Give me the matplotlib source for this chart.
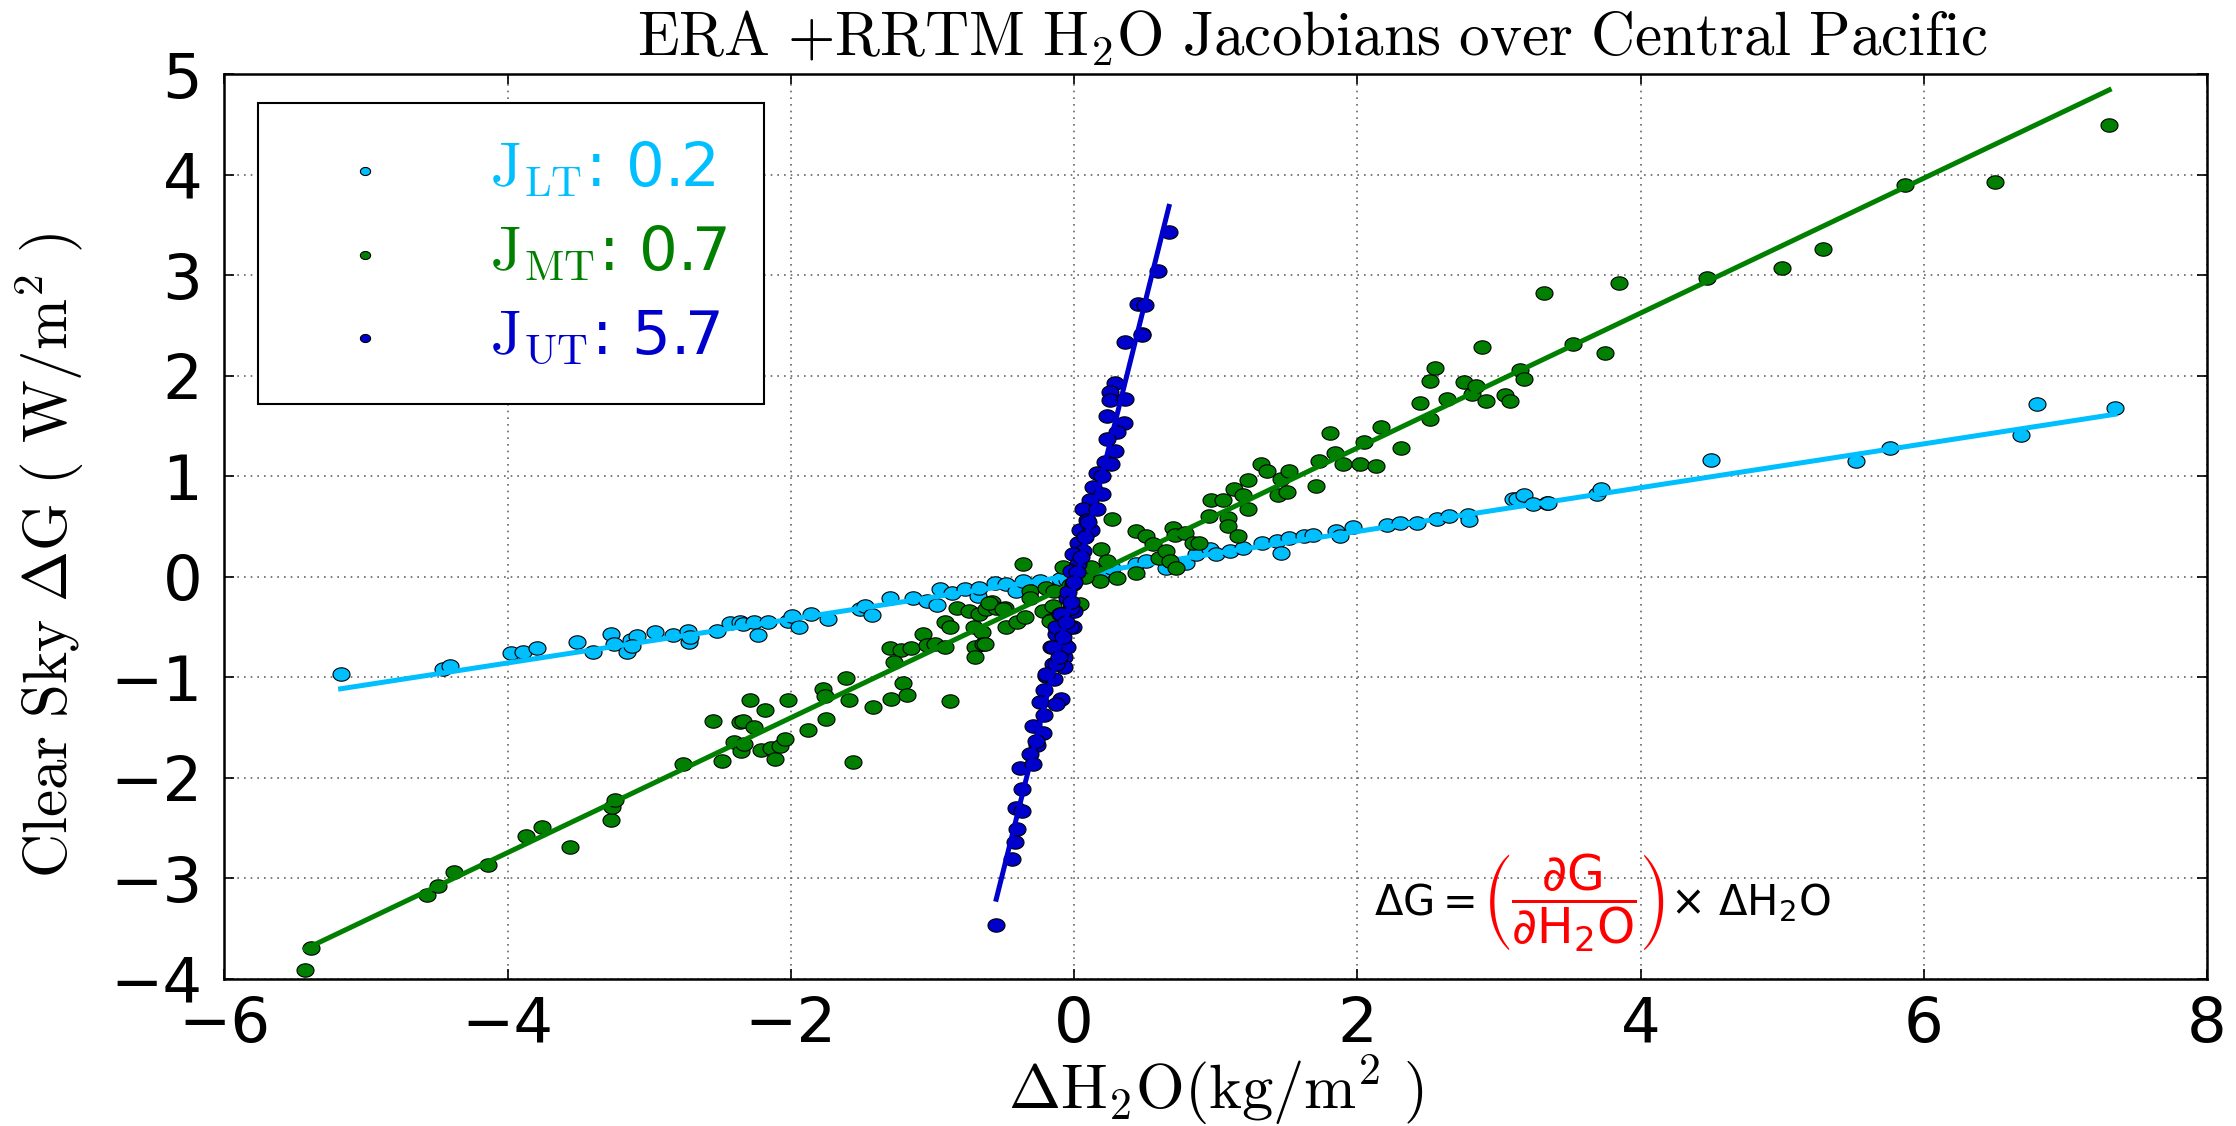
import numpy as np
import matplotlib
matplotlib.use("Agg")
import matplotlib.pyplot as plt
from matplotlib.path import Path

plt.rcParams['mathtext.fontset'] = 'cm'

# ---- data ----
lt_x = [-5.18, -4.46, -4.41, -3.98, -3.89, -3.79, -3.51, -3.40, -3.27, -3.25, -3.16, -3.13, -3.09, -3.12,
        -2.96, -2.83, -2.73, -2.72, -2.71, -2.52, -2.43, -2.36, -2.34, -2.26, -2.23, -2.16, -2.02, -1.99,
        -1.94, -1.86, -1.74, -1.51, -1.48, -1.43, -1.30, -1.14, -1.04, -0.97, -0.95, -0.86, -0.77, -0.68,
        -0.67, -0.56, -0.48, -0.41, -0.36, -0.24, -0.10, -0.05, 0.03, 0.11, 0.20, 0.27, 0.44, 0.51, 0.65,
        0.68, 0.79, 0.86, 0.96, 1.00, 1.10, 1.19, 1.33, 1.43, 1.46, 1.52, 1.62, 1.69, 1.85, 1.88, 1.97,
        2.21, 2.30, 2.42, 2.56, 2.65, 2.78, 2.79, 3.10, 3.13, 3.18, 3.24, 3.34, 3.35, 3.69, 3.72, 4.50,
        5.52, 5.76, 6.69, 6.80, 7.35]
lt_y = [-0.97, -0.92, -0.885, -0.76, -0.75, -0.71, -0.65, -0.75, -0.57, -0.67, -0.75, -0.63, -0.59, -0.69,
        -0.55, -0.58, -0.54, -0.65, -0.60, -0.54, -0.46, -0.45, -0.47, -0.45, -0.58, -0.45, -0.44, -0.39,
        -0.50, -0.37, -0.42, -0.32, -0.29, -0.38, -0.21, -0.21, -0.24, -0.28, -0.12, -0.16, -0.12, -0.19,
        -0.11, -0.06, -0.07, -0.14, -0.04, -0.04, -0.02, -0.03, 0.02, 0.08, 0.05, 0.09, 0.13, 0.16, 0.09,
        0.16, 0.14, 0.23, 0.28, 0.23, 0.26, 0.29, 0.34, 0.36, 0.24, 0.39, 0.41, 0.42, 0.46, 0.41, 0.50,
        0.52, 0.54, 0.54, 0.58, 0.61, 0.62, 0.57, 0.77, 0.77, 0.81, 0.72, 0.73, 0.73, 0.82, 0.87, 1.16,
        1.15, 1.28, 1.41, 1.72, 1.68]

mt_x = [-5.43, -5.39, -4.57, -4.49, -4.38, -4.14, -3.87, -3.76, -3.56, -3.27, -3.26, -3.24, -2.76, -2.55,
        -2.49, -2.40, -2.36, -2.35, -2.29, -2.34, -2.26, -2.33, -2.18, -2.21, -2.14, -2.11, -2.08, -2.04,
        -2.02, -1.88, -1.77, -1.75, -1.76, -1.61, -1.59, -1.56, -1.42, -1.29, -1.21, -1.18, -1.30, -1.22,
        -1.15, -1.27, -1.07, -1.04, -0.98, -0.91, -0.88, -0.91, -0.88, -0.83, -0.74, -0.71, -0.70, -0.70,
        -0.65, -0.64, -0.67, -0.62, -0.58, -0.55, -0.49, -0.48, -0.40, -0.35, -0.36, -0.31, -0.31, -0.22,
        -0.20, -0.15, -0.14, -0.08, -0.16, -0.60, -0.50, -0.63, -0.17, 0.04, 0.18, 0.30, 0.19, 0.23, 0.27,
        0.44, 0.51, 0.44, 0.56, 0.60, 0.65, 0.68, 0.70, 0.72, 0.71, 0.78, 0.84, 0.88, 0.95, 0.97, 1.05,
        1.09, 1.09, 1.16, 1.13, 1.19, 1.23, 1.23, 1.32, 1.36, 1.44, 1.46, 1.50, 1.52, 1.71, 1.73, 1.81,
        1.84, 1.90, 2.02, 2.05, 2.13, 2.17, 2.31, 2.44, 2.51, 2.51, 2.55, 2.63, 2.75, 2.81, 2.84, 2.91,
        2.88, 3.04, 3.08, 3.15, 3.18, 3.32, 3.52, 3.75, 3.85, 4.47, 5.00, 5.29, 5.87, 6.50, 7.31,
        0.08, -0.03, 0.12]
mt_y = [-3.91, -3.69, -3.17, -3.08, -2.94, -2.87, -2.58, -2.49, -2.69, -2.42, -2.29, -2.22, -1.86, -1.43,
        -1.83, -1.64, -1.44, -1.73, -1.23, -1.43, -1.49, -1.66, -1.33, -1.72, -1.70, -1.81, -1.68, -1.61,
        -1.23, -1.52, -1.12, -1.41, -1.19, -1.01, -1.23, -1.84, -1.30, -1.22, -1.06, -1.18, -0.71, -0.73,
        -0.71, -0.85, -0.57, -0.68, -0.67, -0.70, -1.24, -0.45, -0.50, -0.31, -0.34, -0.50, -0.70, -0.80,
        -0.55, -0.67, -0.37, -0.32, -0.25, -0.31, -0.31, -0.50, -0.45, -0.40, 0.13, -0.14, -0.21, -0.34,
        -0.11, -0.29, -0.14, 0.10, -0.43, -0.26, -0.32, -0.67, -0.44, -0.27, -0.04, -0.01, 0.28, 0.16, 0.58,
        0.46, 0.41, 0.04, 0.33, 0.19, 0.26, 0.16, 0.49, 0.09, 0.42, 0.44, 0.34, 0.34, 0.61, 0.76, 0.76,
        0.59, 0.51, 0.41, 0.87, 0.81, 0.67, 0.96, 1.12, 1.05, 0.81, 0.97, 0.84, 1.05, 0.90, 1.15, 1.43,
        1.23, 1.12, 1.12, 1.34, 1.10, 1.49, 1.28, 1.73, 1.57, 1.95, 2.08, 1.77, 1.94, 1.82, 1.90, 1.75,
        2.29, 1.81, 1.75, 2.06, 1.97, 2.82, 2.32, 2.23, 2.92, 2.97, 3.07, 3.26, 3.90, 3.93, 4.50,
        0.00, -0.08, 0.10]

ut_x = [0.67, 0.59, 0.45, 0.50, 0.48, 0.36, 0.29, 0.25, 0.25, 0.36, 0.23, 0.35, 0.30, 0.23, 0.29, 0.22,
        0.26, 0.16, 0.20, 0.13, 0.20, 0.11, 0.06, 0.16, 0.09, 0.04, 0.12, 0.03, 0.06, -0.01, 0.03, -0.02,
        -0.01, -0.05, 0.00, -0.10, -0.01, -0.13, -0.07, -0.16, -0.07, -0.15, -0.07, -0.20, -0.14, -0.21,
        -0.09, -0.24, -0.13, -0.21, -0.29, -0.22, -0.26, -0.31, -0.38, -0.29, -0.37, -0.41, -0.37, -0.40,
        -0.42, -0.44, -0.55, -0.27, -0.20, -0.13, -0.05, -0.15, -0.03, -0.13, -0.02, -0.09, -0.04, 0.02,
        0.00, -0.06, -0.08, -0.11, 0.08, 0.10, 0.05, -0.02, 0.48]
ut_y = [3.43, 3.04, 2.71, 2.70, 2.42, 2.34, 1.93, 1.84, 1.76, 1.77, 1.60, 1.53, 1.44, 1.37, 1.25, 1.14,
        1.12, 1.03, 1.00, 0.89, 0.82, 0.76, 0.67, 0.67, 0.57, 0.47, 0.47, 0.34, 0.26, 0.23, 0.13, 0.06,
        -0.07, -0.21, -0.34, -0.37, -0.50, -0.57, -0.67, -0.70, -0.80, -0.87, -0.90, -0.99, -1.02, -1.13,
        -1.22, -1.25, -1.27, -1.37, -1.48, -1.55, -1.67, -1.76, -1.90, -1.86, -2.11, -2.30, -2.33, -2.51,
        -2.64, -2.81, -3.46, -1.63, -0.97, -0.87, -0.70, -0.70, -0.50, -0.50, -0.31, -0.37, -0.15, 0.05,
        -0.05, -0.45, -0.60, -0.80, 0.40, 0.55, 0.20, -0.25, 2.41]

# linear fits as drawn in the reference (slope, intercept)
fit_slope = [0.218, 0.671, 5.65]
fit_intercept = [0.015, -0.06, -0.10]
labels = [r'$\mathrm{J_{LT}}$: 0.2', r'$\mathrm{J_{MT}}$: 0.7', r'$\mathrm{J_{UT}}$: 5.7']
colors = ['#00bfff', '#007f00', '#0000cd']
x_ticks = [-6, -4, -2, 0, 2, 4, 6, 8]
y_ticks = [-4, -3, -2, -1, 0, 1, 2, 3, 4, 5]

# horizontally stretched circle, like the reference markers
theta = np.linspace(0, 2 * np.pi, 60)
oval = Path(np.column_stack([1.27 * np.cos(theta), np.sin(theta)]), closed=True)

fig = plt.figure(figsize=(22.36, 11.26), dpi=100)
ax = fig.add_axes([0.1004, 0.1307, 0.8866, 0.8033])

series = [(lt_x, lt_y), (mt_x, mt_y), (ut_x, ut_y)]
for (xs, ys), m, b, lab, c in zip(series, fit_slope, fit_intercept, labels, colors):
    xs = np.array(xs)
    ys = np.array(ys)
    ax.scatter(xs, ys, s=150, marker=oval, c=c, edgecolors='k', linewidths=0.8, label=lab, zorder=3)
    xx = np.array([xs.min(), xs.max()])
    ax.plot(xx, m * xx + b, color=c, lw=3.6, zorder=3)

ax.set_xlim(-6, 8)
ax.set_ylim(-4, 5)
ax.set_xticks(x_ticks)
ax.set_yticks(y_ticks)
ax.grid(True, color='0.4', linestyle=(0, (1, 3)), linewidth=1.2)
ax.tick_params(direction='in', top=True, right=True, length=7, width=1.2, labelsize=45)
ax.tick_params(axis='x', pad=12)
ax.tick_params(axis='y', pad=16)
for sp in ax.spines.values():
    sp.set_linewidth(1.8)

ax.set_title(r'$\mathrm{ERA\ {+}RRTM\ H_2O\ Jacobians\ over\ Central\ Pacific}$', fontsize=44,
             pad=14, x=0.549)
ax.set_xlabel(r'$\mathrm{\Delta H_2O(kg/m^2\ )}$', fontsize=45, labelpad=-2)
ax.set_ylabel(r'$\mathrm{Clear\ Sky\ \Delta G\ (\ W/m^2\ )}$', fontsize=44)
ax.yaxis.set_label_coords(-0.07, 0.468)

leg = ax.legend(loc='upper left', bbox_to_anchor=(0.0169, 0.968), borderaxespad=0, fontsize=44,
                scatterpoints=1, markerscale=0.6, handlelength=2.3, handletextpad=0.9,
                labelspacing=0.4, borderpad=0.6, fancybox=False, framealpha=1)
leg.get_frame().set_edgecolor('k')
leg.get_frame().set_linewidth(1.5)
for t, c in zip(leg.get_texts(), colors):
    t.set_color(c)

# equation annotation
t1 = ax.text(2.12, -3.24, r'$\Delta\mathrm{G} =$', fontsize=30, va='center', ha='left',
             math_fontfamily='dejavusans')
t2 = ax.annotate(r'$\left(\dfrac{\partial \mathrm{G}}{\partial \mathrm{H_2O}}\right)$', xy=(1, 0.5),
                 xycoords=t1, xytext=(5, 0), textcoords='offset points', va='center', ha='left',
                 fontsize=35, color='red', math_fontfamily='dejavusans')
ax.annotate(r'$\times\ \Delta\mathrm{H_2O}$', xy=(1, 0.5), xycoords=t2, xytext=(3, 0),
            textcoords='offset points', va='center', ha='left', fontsize=30,
            math_fontfamily='dejavusans')

fig.savefig('out.png', dpi=100)
